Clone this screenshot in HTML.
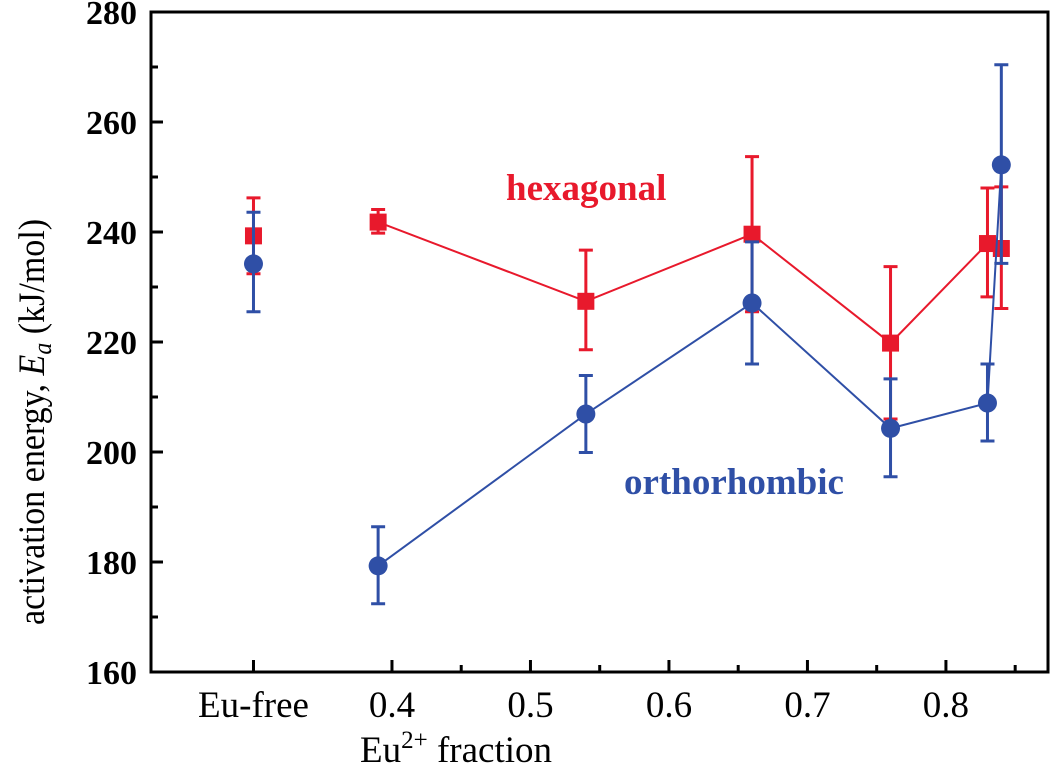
<!DOCTYPE html>
<html><head><meta charset="utf-8"><style>
html,body{margin:0;padding:0;background:#fff;width:1050px;height:772px;overflow:hidden}
svg{display:block}
text{font-family:"Liberation Serif",serif}
</style></head><body>
<svg id="chart" width="1050" height="772"></svg>
<script>
const xCategories=[0.3,0.39,0.54,0.66,0.76,0.83,0.84];
const hexX=[0.3,0.39,0.54,0.66,0.76,0.83,0.84];
const hexY=[239.3,241.8,227.4,239.6,219.8,237.9,237.0];
const hexErrHi=[246.2,244.1,236.7,253.7,233.7,248.0,248.2];
const hexErrLo=[232.4,239.8,218.6,225.5,206.0,228.2,226.1];
const hexLineIdx=[1,2,3,4,5];
const ortX=[0.3,0.39,0.54,0.66,0.76,0.83,0.84];
const ortY=[234.2,179.3,206.9,227.1,204.3,208.9,252.2];
const ortErrHi=[243.6,186.4,213.9,238.2,213.3,216.0,270.4];
const ortErrLo=[225.5,172.4,199.9,216.0,195.5,202.0,234.3];
const ortLineIdx=[1,2,3,4,5,6];
const xTickVals=[0.3,0.4,0.5,0.6,0.7,0.8];
const xTickLabels=["Eu-free","0.4","0.5","0.6","0.7","0.8"];
const xMinorVals=[0.45,0.55,0.65,0.75,0.85];
const yTickVals=[160,180,200,220,240,260,280];
const yMinorVals=[170,190,210,230,250,270];

const L=151,R=1048,T=12,B=672;
const X0=0.2260,X1=0.8737,Y0=160,Y1=280;
const sx=v=>L+(v-X0)/(X1-X0)*(R-L);
const sy=v=>B-(v-Y0)/(Y1-Y0)*(B-T);
const svg=document.getElementById('chart');
const NS='http://www.w3.org/2000/svg';
function mk(tag,attrs,parent){const e=document.createElementNS(NS,tag);for(const k in attrs)e.setAttribute(k,attrs[k]);(parent||svg).appendChild(e);return e;}

const frame=mk('rect',{x:L,y:T,width:R-L,height:B-T,fill:'none',stroke:'#000','stroke-width':3});



xTickVals.forEach((v,i)=>{
  const t=mk('line',{x1:sx(v),x2:sx(v),y1:B,y2:B-12,stroke:'#000','stroke-width':3});
  
  
  const lb=mk('text',{x:sx(v),y:717,'text-anchor':'middle','font-size':37});
  lb.textContent=xTickLabels[i];
  
  
});
xMinorVals.forEach(v=>{
  const t=mk('line',{x1:sx(v),x2:sx(v),y1:B,y2:B-7,stroke:'#000','stroke-width':3});
  
  
});
yTickVals.forEach(v=>{
  const t=mk('line',{x1:L,x2:L+12,y1:sy(v),y2:sy(v),stroke:'#000','stroke-width':3});
  
  
  const lb=mk('text',{x:137,y:sy(v)+12,'text-anchor':'end','font-size':34,'font-weight':'bold'});
  lb.textContent=String(v);
  
  
});
yMinorVals.forEach(v=>{
  const t=mk('line',{x1:L,x2:L+7,y1:sy(v),y2:sy(v),stroke:'#000','stroke-width':3});
  
  
});

const xt=mk('text',{x:360,y:762,'font-size':37});
xt.innerHTML='Eu<tspan dy="-14" font-size="25">2+</tspan><tspan dy="14"> fraction</tspan>';


const yt=mk('text',{x:0,y:0,'font-size':37,transform:'translate(44,625) rotate(-90) scale(0.92,1)'});
yt.innerHTML='activation energy, <tspan font-style="italic">E</tspan><tspan font-style="italic" font-size="26" dy="7">a</tspan><tspan dy="-7">  (kJ/mol)</tspan>';



function series(xs,ys,hi,lo,idx,color,shape,name){
  const g=mk('g',{});
  
  
  const pts=idx.map(i=>sx(xs[i])+','+sy(ys[i])).join(' ');
  const pl=mk('polyline',{points:pts,fill:'none',stroke:color,'stroke-width':2},g);
  
  
  xs.forEach((x,i)=>{
    const cx=sx(x);
    const eb=mk('path',{d:`M${cx},${sy(hi[i])}V${sy(lo[i])}M${cx-7},${sy(hi[i])}H${cx+7}M${cx-7},${sy(lo[i])}H${cx+7}`,stroke:color,'stroke-width':3,fill:'none'},g);
    
    
  });
  xs.forEach((x,i)=>{
    const cx=sx(x),cy=sy(ys[i]);
    let m;
    if(shape==='square')m=mk('rect',{x:cx-8.5,y:cy-8.5,width:17,height:17,fill:color},g);
    else m=mk('circle',{cx:cx,cy:cy,r:9.5,fill:color},g);
    
    
  });
}
series(hexX,hexY,hexErrHi,hexErrLo,hexLineIdx,'#e8192c','square','hexagonal');
series(ortX,ortY,ortErrHi,ortErrLo,ortLineIdx,'#2f4fa6','circle','orthorhombic');

const hl=mk('text',{x:506,y:200,'font-size':37,'font-weight':'bold',fill:'#e8192c'});
hl.textContent='hexagonal';


const ol=mk('text',{x:624,y:494,'font-size':37,'font-weight':'bold',fill:'#2f4fa6'});
ol.textContent='orthorhombic';


</script>
</body></html>
